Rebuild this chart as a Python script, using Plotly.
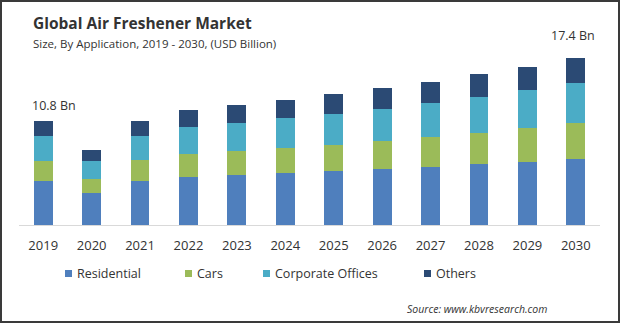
import plotly.graph_objects as go

years = ["2019", "2020", "2021", "2022", "2023", "2024", "2025", "2026", "2027", "2028", "2029", "2030"]
residential = [4.61, 3.37, 4.58, 5.00, 5.21, 5.42, 5.63, 5.86, 6.07, 6.35, 6.56, 6.91]
cars = [2.05, 1.43, 2.19, 2.40, 2.53, 2.57, 2.71, 2.92, 3.06, 3.26, 3.51, 3.72]
corporate = [2.64, 1.91, 2.53, 2.81, 2.92, 3.19, 3.26, 3.30, 3.60, 3.72, 3.99, 4.20]
others = [1.53, 1.11, 1.53, 1.77, 1.84, 1.84, 2.05, 2.19, 2.16, 2.40, 2.40, 2.57]
series_names = ["Residential", "Cars", "Corporate Offices", "Others"]
colors = ["#4f7fbd", "#9bbb59", "#4bacc6", "#2b4a74"]
total_labels = ["10.8 Bn", "17.4 Bn"]

W, H = 620, 323
ML, MR, MT, MB = 19, 20, 20, 98
PW, PH = W - ML - MR, H - MT - MB
FONT = "Open Sans"


def px(x):
    return (x - ML) / PW


def py(y):
    return (H - MB - y) / PH


fig = go.Figure()
for name, vals, col in zip(series_names, [residential, cars, corporate, others], colors):
    fig.add_trace(go.Bar(x=years, y=vals, name=name, marker=dict(color=col, line=dict(width=0)),
                         showlegend=False, hoverinfo="x+y+name"))

annotations = [
    dict(text="<b>Global Air Freshener Market</b>", x=px(31), y=py(23), xref="paper", yref="paper",
         xanchor="left", yanchor="middle", showarrow=False, font=dict(family=FONT, size=15.5, color="#333333")),
    dict(text="Size, By Application, 2019 - 2030, (USD Billion)", x=px(31), y=py(43), xref="paper", yref="paper",
         xanchor="left", yanchor="middle", showarrow=False, font=dict(family=FONT, size=11.5, color="#333333")),
    dict(text=total_labels[0], x=px(53.5), y=py(105), xref="paper", yref="paper",
         xanchor="center", yanchor="middle", showarrow=False, font=dict(family=FONT, size=12.5, color="#333333")),
    dict(text=total_labels[1], x=px(572.5), y=py(36), xref="paper", yref="paper",
         xanchor="center", yanchor="middle", showarrow=False, font=dict(family=FONT, size=12.5, color="#333333")),
    dict(text="<i>Source: www.kbvresearch.com</i>", x=px(549), y=py(309), xref="paper", yref="paper",
         xanchor="right", yanchor="middle", showarrow=False, font=dict(family=FONT, size=10.5, color="#333333")),
]

shapes = []
legend_x = [65, 185, 263, 424]
for name, col, lx in zip(series_names, colors, legend_x):
    shapes.append(dict(type="rect", xref="paper", yref="paper", x0=px(lx), x1=px(lx + 7), y0=py(277), y1=py(270),
                       fillcolor=col, line=dict(width=0)))
    annotations.append(dict(text=name, x=px(lx + 10), y=py(273.5), xref="paper", yref="paper",
                            xanchor="left", yanchor="middle", showarrow=False,
                            font=dict(family=FONT, size=12.5, color="#333333")))

# outer frame
shapes.append(dict(type="rect", xref="paper", yref="paper", x0=px(1), x1=px(619), y0=py(322), y1=py(1),
                   line=dict(color="#3a3a3a", width=2), fillcolor="rgba(0,0,0,0)", layer="above"))

fig.update_layout(
    width=W, height=H,
    margin=dict(l=ML, r=MR, t=MT, b=MB),
    barmode="stack", bargap=0.61,
    paper_bgcolor="white", plot_bgcolor="white",
    font=dict(family=FONT, color="#333333"),
    xaxis=dict(type="category", range=[-0.5, 11.5], showline=True, linecolor="#d9d9d9", linewidth=1,
               ticks="", ticklabelstandoff=8, tickfont=dict(family=FONT, size=13, color="#333333"),
               showgrid=False, fixedrange=True),
    yaxis=dict(range=[0, PH / 9.6], visible=False, showgrid=False, fixedrange=True),
    annotations=annotations,
    shapes=shapes,
)

fig.write_html("out.html")
